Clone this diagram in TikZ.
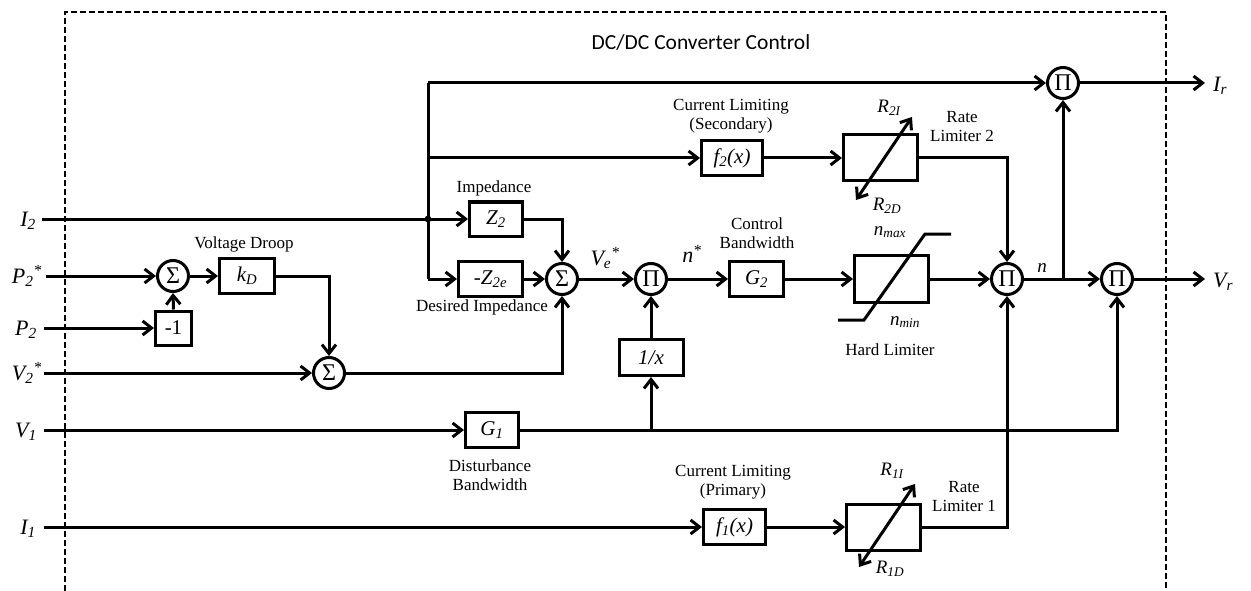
\documentclass[tikz,border=0pt]{standalone}
\usepackage{fontspec}
\setmainfont{Liberation Serif}
\newfontfamily\titlefont{Carlito}
\usetikzlibrary{arrows.meta,calc}
\begin{document}
\begin{tikzpicture}[x=1pt,y=-1pt,
  blk/.style={draw, line width=3pt, inner sep=0pt, font=\fontsize{21}{22}\selectfont\itshape},
  sumc/.style={draw, circle, line width=3pt, minimum size=31pt, inner sep=0pt, font=\fontsize{24}{24}\selectfont},
  lbl/.style={font=\fontsize{17}{19}\selectfont, align=center, inner sep=0pt},
  var/.style={font=\fontsize{22}{22}\selectfont\itshape, inner sep=0pt},
  sml/.style={font=\fontsize{19}{19}\selectfont\itshape, inner sep=0pt},
  wire/.style={line width=3pt},
  conn/.style={line width=3pt, -{Straight Barb[length=9pt,width=14pt]}},
  dconn/.style={line width=3pt, {Straight Barb[length=9pt,width=14pt]}-{Straight Barb[length=9pt,width=14pt]}},
]
\useasboundingbox (0,0) rectangle (1251,591);
% border
\draw[line width=2.6pt, dash pattern=on 6pt off 3pt] (65,591) -- (65,12) -- (1166,12) -- (1166,591);
\node[font=\titlefont\fontsize{21.5}{22}\selectfont] (title) at (701,42) {DC/DC Converter Control};

% inputs
\coordinate (inI2) at (42,219);
\coordinate (inP2s) at (46,276);
\coordinate (inP2) at (44,328);
\coordinate (inV2s) at (44,373);
\coordinate (inV1) at (44,430);
\coordinate (inI1) at (44,527);
\node[var, anchor=east] (lI2) at (36,221) {I\textsubscript{2}};
\node[var, anchor=east] (lP2s) at (42,276) {P\textsubscript{2}\textsuperscript{*}};
\node[var, anchor=east] (lP2) at (37,330) {P\textsubscript{2}};
\node[var, anchor=east] (lV2s) at (42,373) {V\textsubscript{2}\textsuperscript{*}};
\node[var, anchor=east] (lV1) at (37,432) {V\textsubscript{1}};
\node[var, anchor=east] (lI1) at (36,529) {I\textsubscript{1}};

% blocks
\node[sumc] (s1) at (173,276) {Σ};
\node[blk, minimum width=55pt, minimum height=35pt] (kD) at (247,276) {k\textsubscript{D}};
\node[blk, minimum width=36pt, minimum height=34pt, font=\fontsize{21}{22}\selectfont] (m1) at (173.5,328) {-1};
\node[sumc] (s2) at (329,373) {Σ};
\node[blk, minimum width=53pt, minimum height=34pt] (Z2) at (496,219) {Z\textsubscript{2}};
\node[blk, minimum width=64pt, minimum height=35pt] (Z2e) at (490.5,279) {-Z\textsubscript{2e}};
\node[sumc] (s3) at (562,279) {Σ};
\node[sumc] (p1) at (651,279) {Π};
\node[blk, minimum width=54pt, minimum height=35pt] (G2) at (756.5,279) {G\textsubscript{2}};
\node[blk, minimum width=74pt, minimum height=47pt] (HL) at (891.5,279) {};
\node[sumc] (p2) at (1007,279) {Π};
\node[sumc] (p3) at (1117,279) {Π};
\node[sumc] (p4) at (1063,83) {Π};
\node[blk, minimum width=61pt, minimum height=35pt] (f2) at (732,158) {f\textsubscript{2}(x)};
\node[blk, minimum width=74pt, minimum height=46pt] (RL2) at (880.5,158) {};
\node[blk, minimum width=64pt, minimum height=36pt] (inv) at (651,357.5) {1/x};
\node[blk, minimum width=53pt, minimum height=35pt] (G1) at (492,430) {G\textsubscript{1}};
\node[blk, minimum width=62pt, minimum height=35pt] (f1) at (734.5,527) {f\textsubscript{1}(x)};
\node[blk, minimum width=74pt, minimum height=46pt] (RL1) at (883.5,527) {};

% outputs
\coordinate (outIr) at (1205,83);
\coordinate (outVr) at (1205,279);
\node[var, anchor=west] (lIr) at (1213,86) {I\textsubscript{r}};
\node[var, anchor=west] (lVr) at (1213,282) {V\textsubscript{r}};

% junction coordinates
\coordinate (jtop) at (428,83);
\coordinate (jf) at (428,158);
\coordinate (jI) at (428,219);
\coordinate (jb) at (428,279);
\coordinate (jn) at (1063,279);
\coordinate (jv) at (651,430);
\coordinate (cV) at (1117,430);
\fill (jI) circle (3.4pt);

% connectors
\draw[wire] (inI2) -- (jI);
\draw[conn] (jI) -- (Z2.west);
\draw[wire] (jtop) -- (jb);
\draw[conn] (jtop) -- (p4.west);
\draw[conn] (jf) -- (f2.west);
\draw[conn] (jb) -- (Z2e.west);
\draw[conn] (Z2.east) -| (s3.north);
\draw[conn] (Z2e.east) -- (s3.west);
\draw[conn] (s3.east) -- (p1.west);
\draw[conn] (p1.east) -- (G2.west);
\draw[conn] (G2.east) -- (HL.west);
\draw[conn] (HL.east) -- (p2.west);
\draw[conn] (p2.east) -- (p3.west);
\draw[conn] (jn) -- (p4.south);
\draw[conn] (p3.east) -- (outVr);
\draw[conn] (p4.east) -- (outIr);
\draw[conn] (f2.east) -- (RL2.west);
\draw[conn] (RL2.east) -| (p2.north);
\draw[conn] (inP2s) -- (s1.west);
\draw[conn] (s1.east) -- (kD.west);
\draw[conn] (kD.east) -| (s2.north);
\draw[conn] (inP2) -- (m1.west);
\draw[conn] (m1.north) -- (s1.south);
\draw[conn] (inV2s) -- (s2.west);
\draw[conn] (s2.east) -| (s3.south);
\draw[conn] (inV1) -- (G1.west);
\draw[conn] (G1.east) -- (cV) -- (p3.south);
\draw[conn] (jv) -- (inv.south);
\draw[conn] (inv.north) -- (p1.south);
\draw[conn] (inI1) -- (f1.west);
\draw[conn] (f1.east) -- (RL1.west);
\draw[conn] (RL1.east) -| (p2.south);

% rate limiter arrows and hard limiter curve
\draw[dconn] ($(RL2.center)+(-24.5,42)$) -- ($(RL2.center)+(31.5,-41)$);
\draw[dconn] ($(RL1.center)+(-24.5,40)$) -- ($(RL1.center)+(31.5,-43)$);
\draw[wire] ($(HL.center)+(-53.5,41)$) -- ($(HL.center)+(-27.5,41)$) -- ($(HL.center)+(33.5,-45)$) -- ($(HL.center)+(59.5,-45)$);

% labels
\node[lbl] (tVD) at (244,244) {Voltage Droop};
\node[lbl] (tImp) at (494,188) {Impedance};
\node[lbl] (tDImp) at (482,307) {Desired Impedance};
\node[lbl] (tCLS) at (731,116) {Current Limiting\\(Secondary)};
\node[lbl] (tRL2) at (962,127) {Rate\\Limiter 2};
\node[lbl] (tCB) at (757,233) {Control\\Bandwidth};
\node[lbl] (tHL) at (890,350) {Hard Limiter};
\node[lbl] (tDB) at (490,475) {Disturbance\\Bandwidth};
\node[lbl] (tCLP) at (733,482) {Current Limiting\\(Primary)};
\node[lbl] (tRL1) at (964,497) {Rate\\Limiter 1};
\node[sml] (tR2I) at (889,108) {R\textsubscript{2I}};
\node[sml] (tR2D) at (887,206) {R\textsubscript{2D}};
\node[sml] (tnmax) at (890,232) {n\textsubscript{max}};
\node[sml] (tnmin) at (905,322) {n\textsubscript{min}};
\node[sml] (tR1I) at (892,471) {R\textsubscript{1I}};
\node[sml] (tR1D) at (890,569) {R\textsubscript{1D}};
\node[var] (tVe) at (605,258) {V\textsubscript{e}\textsuperscript{*}};
\node[var] (tns) at (692,254) {n\textsuperscript{*}};
\node[sml] (tn) at (1042,268) {n};
\end{tikzpicture}
\end{document}
